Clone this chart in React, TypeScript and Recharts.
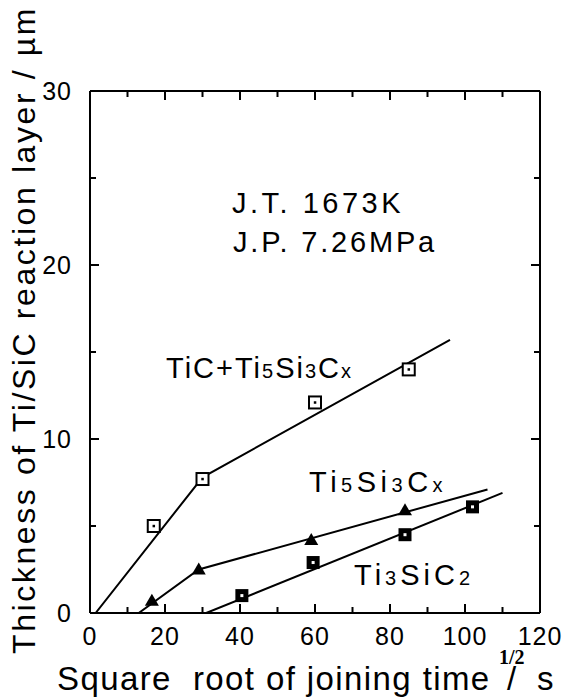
import React from "react";
import { ComposedChart, Line, Scatter, XAxis, YAxis } from "recharts";

const xTicks = [0, 10, 20, 30, 40, 50, 60, 70, 80, 90, 100, 110, 120];
const yTicks = [0, 5, 10, 15, 20, 25, 30];

// measured points
const ticX = [17, 30, 60, 85];
const ticY = [5, 7.7, 12.1, 14];
const t5X = [16.5, 29, 59, 84];
const t5Y = [0.7, 2.5, 4.2, 5.9];
const t3X = [40.5, 59.5, 84, 102];
const t3Y = [1.0, 2.9, 4.5, 6.1];

// fitted lines
const ticFitX = [1.5, 30, 96];
const ticFitY = [0, 7.8, 15.7];
const t5FitX = [13, 29, 106];
const t5FitY = [0, 2.5, 7.1];
const t3FitX = [31, 110];
const t3FitY = [0, 6.9];

const zip = (xs: number[], ys: number[]) => xs.map((x, i) => ({ x, y: ys[i] }));

const FONT = "'Liberation Sans', Arial, Helvetica, sans-serif";
const MARGIN = 14;

const OpenSquare = (p: any) => (
  <g>
    <rect x={p.cx - 6} y={p.cy - 6} width={12} height={12} fill="#fff" stroke="#000" strokeWidth={2} />
    <rect x={p.cx - 1.2} y={p.cy - 1.2} width={2.5} height={2.5} fill="#000" />
  </g>
);
const Triangle = (p: any) => (
  <polygon points={`${p.cx},${p.cy - 7} ${p.cx - 7},${p.cy + 5} ${p.cx + 7},${p.cy + 5}`} fill="#000" />
);
const SolidSquare = (p: any) => (
  <g>
    <rect x={p.cx - 6.5} y={p.cy - 6.5} width={13} height={13} fill="#000" />
    <rect x={p.cx - 1.5} y={p.cy - 1.5} width={3} height={3} fill="#fff" />
  </g>
);

const BottomTick = (p: any) => {
  const v = p.payload.value;
  const major = v % 20 === 0;
  const ay = p.y - MARGIN;
  return (
    <g>
      <line x1={p.x} x2={p.x} y1={ay} y2={ay - (major ? 9 : 6)} stroke="#000" strokeWidth={2} />
      {major && (
        <text x={p.x} y={p.y} dy="0.71em" textAnchor="middle" fontSize={25} fontFamily={FONT} letterSpacing={1} fill="#000">
          {v}
        </text>
      )}
    </g>
  );
};
const TopTick = (p: any) => {
  const major = p.payload.value % 20 === 0;
  return <line x1={p.x} x2={p.x} y1={p.y} y2={p.y + (major ? 9 : 6)} stroke="#000" strokeWidth={2} />;
};
const LeftTick = (p: any) => {
  const v = p.payload.value;
  const major = v % 10 === 0;
  const ax = p.x + 18;
  return (
    <g>
      <line x1={ax} x2={ax + (major ? 9 : 6)} y1={p.y} y2={p.y} stroke="#000" strokeWidth={2} />
      {major && (
        <text x={p.x} y={p.y} dy="0.36em" textAnchor="end" fontSize={25} fontFamily={FONT} letterSpacing={1} fill="#000">
          {v}
        </text>
      )}
    </g>
  );
};
const RightTick = (p: any) => {
  const major = p.payload.value % 10 === 0;
  return <line x1={p.x} x2={p.x - (major ? 9 : 6)} y1={p.y} y2={p.y} stroke="#000" strokeWidth={2} />;
};

const sub = 20;

export default function App() {
  const axisLine = { stroke: "#000", strokeWidth: 2 };
  return (
    <div style={{ position: "absolute", left: 0, top: 0, width: 566, height: 697, background: "#fff" }}>
      <ComposedChart width={566} height={697} margin={{ top: 0, right: 0, bottom: 0, left: 0 }}>
        <XAxis xAxisId={0} dataKey="x" type="number" domain={[0, 120]} ticks={xTicks} allowDataOverflow
          height={84} tickSize={0} tickMargin={MARGIN} axisLine={axisLine} tickLine={false} tick={BottomTick} interval={0} />
        <XAxis xAxisId="top" orientation="top" dataKey="x" type="number" domain={[0, 120]} ticks={xTicks} allowDataOverflow
          height={91} tickSize={0} tickMargin={0} axisLine={axisLine} tickLine={false} tick={TopTick} interval={0} />
        <YAxis yAxisId={0} type="number" domain={[0, 30]} ticks={yTicks} allowDataOverflow
          width={90} tickSize={0} tickMargin={18} axisLine={axisLine} tickLine={false} tick={LeftTick} interval={0} />
        <YAxis yAxisId="right" orientation="right" type="number" domain={[0, 30]} ticks={yTicks} allowDataOverflow
          width={26} tickSize={0} tickMargin={0} axisLine={axisLine} tickLine={false} tick={RightTick} interval={0} />

        <Line data={zip(ticFitX, ticFitY)} dataKey="y" type="linear" stroke="#000" strokeWidth={2} dot={false} isAnimationActive={false} />
        <Line data={zip(t5FitX, t5FitY)} dataKey="y" type="linear" stroke="#000" strokeWidth={2} dot={false} isAnimationActive={false} />
        <Line data={zip(t3FitX, t3FitY)} dataKey="y" type="linear" stroke="#000" strokeWidth={2} dot={false} isAnimationActive={false} />

        <Scatter data={zip(ticX, ticY)} dataKey="y" shape={OpenSquare} isAnimationActive={false} />
        <Scatter data={zip(t5X, t5Y)} dataKey="y" shape={Triangle} isAnimationActive={false} />
        <Scatter data={zip(t3X, t3Y)} dataKey="y" shape={SolidSquare} isAnimationActive={false} />

        <g fontFamily={FONT} fill="#000">
          <text x={232} y={213} fontSize={29} letterSpacing={3.5}>J.T. 1673K</text>
          <text x={233} y={252} fontSize={29} letterSpacing={2.8}>J.P. 7.26MPa</text>
          <text x={166} y={378} fontSize={29} letterSpacing={2}>
            TiC+Ti<tspan fontSize={sub}>5</tspan>Si<tspan fontSize={sub}>3</tspan>C<tspan fontSize={sub}>x</tspan>
          </text>
          <text x={309} y={492} fontSize={29} letterSpacing={4.5}>
            Ti<tspan fontSize={sub}>5</tspan>Si<tspan fontSize={sub}>3</tspan>C<tspan fontSize={sub}>x</tspan>
          </text>
          <text x={354} y={585} fontSize={29} letterSpacing={4}>
            Ti<tspan fontSize={sub}>3</tspan>SiC<tspan fontSize={sub}>2</tspan>
          </text>
          <text x={57} y={690} fontSize={33} letterSpacing={1.4}>{"Square\u00a0 root of joining time"}</text>
          <text x={507} y={690} fontSize={33}>/</text>
          <text x={537} y={690} fontSize={33}>s</text>
          <text x={499} y={664} fontSize={20} fontWeight="bold" fontFamily="'Liberation Serif', 'Times New Roman', serif">1/2</text>
          <text x={35} y={330} fontSize={32} letterSpacing={2.6} textAnchor="middle" transform="rotate(-90 35 330)">
            Thickness of Ti/SiC reaction layer / µm
          </text>
        </g>
      </ComposedChart>
    </div>
  );
}
